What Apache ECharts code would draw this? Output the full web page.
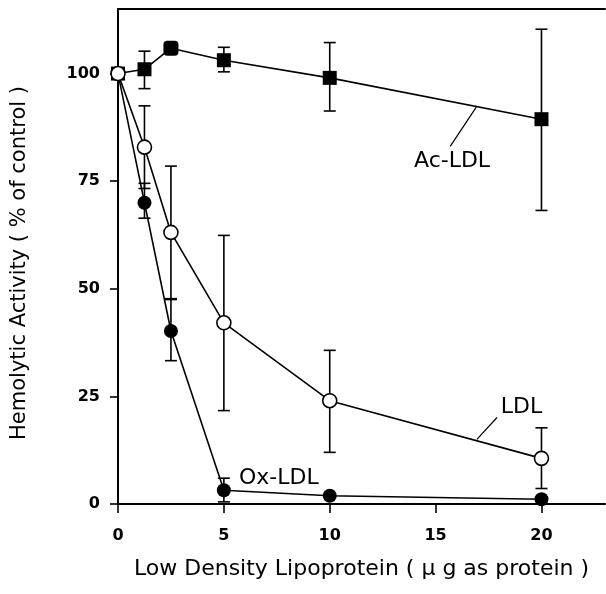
<!DOCTYPE html>
<html>
<head>
<meta charset="utf-8">
<script src="https://cdn.jsdelivr.net/npm/echarts@6/dist/echarts.min.js"></script>
<style>
html,body{margin:0;padding:0;background:#fff;}
#chart{width:606px;height:594px;}
</style>
</head>
<body>
<div id="chart"></div>
<script>
// ---- data ----
const xValues = [0, 1.25, 2.5, 5, 10, 20];
const acLDL = [100, 101, 105.9, 103.1, 99.0, 89.4];
const acLDLLow = [null, 96.5, null, 100.4, 91.3, 68.2];
const acLDLHigh = [null, 105.2, null, 106.1, 107.2, 110.3];
const ldl = [100, 82.9, 63.1, 42.1, 24.0, 10.6];
const ldlLow = [null, 73.3, 47.7, 21.7, 12.0, 3.6];
const ldlHigh = [null, 92.5, 78.5, 62.4, 35.7, 17.7];
const oxLDL = [100, 70, 40.2, 3.2, 1.9, 1.1];
const oxLDLLow = [null, 66.4, 33.3, 0.5, null, null];
const oxLDLHigh = [null, 74.5, 47.5, 6.0, null, null];
const xTicks = [0, 5, 10, 15, 20];
const yTicks = [0, 25, 50, 75, 100];
const seriesNames = ['Ac-LDL', 'LDL', 'Ox-LDL'];
// annotation anchors (data coordinates)
const labelAnchors = [[15.8, 79.4], [19.08, 22.3], [7.62, 5.8]];
const leaderLines = [
  [[16.92, 92.2], [15.69, 83.1]],
  [[17.9, 20.1], [16.95, 15.0]]
];

const FONT = 'DejaVu Sans';
function pts(ys) { return xValues.map((x, i) => [x, ys[i]]); }
function errs(lo, hi) {
  const out = [];
  xValues.forEach((x, i) => { if (lo[i] != null) out.push([x, lo[i], hi[i]]); });
  return out;
}
function errorSeries(data) {
  return {
    type: 'custom', z: 2, silent: true,
    renderItem: function (params, api) {
      const x = api.value(0);
      const a = api.coord([x, api.value(1)]);
      const b = api.coord([x, api.value(2)]);
      const w = 6;
      const st = { stroke: '#000', lineWidth: 1.6 };
      return {
        type: 'group', children: [
          { type: 'line', shape: { x1: a[0], y1: a[1], x2: b[0], y2: b[1] }, style: st },
          { type: 'line', shape: { x1: a[0] - w, y1: a[1], x2: a[0] + w, y2: a[1] }, style: st },
          { type: 'line', shape: { x1: b[0] - w, y1: b[1], x2: b[0] + w, y2: b[1] }, style: st }
        ]
      };
    },
    data: data
  };
}

const acData = pts(acLDL).map((p, i) => i === 2 ? { value: p, symbol: 'roundRect', symbolSize: 15 } : p);

const chart = echarts.init(document.getElementById('chart'));
chart.setOption({
  animation: false,
  backgroundColor: '#fff',
  grid: { left: 118, right: 1, top: 9, bottom: 90 },
  xAxis: [{
    type: 'value', min: 0, max: 23,
    axisLine: { show: true, onZero: false, lineStyle: { color: '#000', width: 2 } },
    axisTick: { show: true, inside: false, length: 9, customValues: xTicks, lineStyle: { color: '#000', width: 1.6 } },
    axisLabel: { customValues: xTicks, margin: 24, color: '#000', fontFamily: FONT, fontWeight: 'bold', fontSize: 16 },
    splitLine: { show: false },
    name: 'Low Density Lipoprotein ( \u03bc g as protein )',
    nameLocation: 'middle', nameGap: 54,
    nameTextStyle: { color: '#000', fontFamily: FONT, fontSize: 22 }
  }, {
    type: 'value', min: 0, max: 23, position: 'top', show: true,
    axisLine: { show: true, onZero: false, lineStyle: { color: '#000', width: 2 } },
    axisTick: { show: false }, axisLabel: { show: false }, splitLine: { show: false }
  }],
  yAxis: {
    type: 'value', min: 0, max: 115,
    axisLine: { show: true, onZero: false, lineStyle: { color: '#000', width: 2 } },
    axisTick: { show: true, inside: false, length: 8, customValues: yTicks, lineStyle: { color: '#000', width: 1.6 } },
    axisLabel: { customValues: yTicks, margin: 18, color: '#000', fontFamily: FONT, fontWeight: 'bold', fontSize: 16 },
    splitLine: { show: false },
    name: 'Hemolytic Activity ( % of control )',
    nameLocation: 'middle', nameGap: 88,
    nameTextStyle: { color: '#000', fontFamily: FONT, fontSize: 21, padding: [0, 13, 0, 0] }
  },
  series: [
    { type: 'line', xAxisIndex: 1, data: [], silent: true },
    errorSeries(errs(acLDLLow, acLDLHigh)),
    errorSeries(errs(ldlLow, ldlHigh)),
    errorSeries(errs(oxLDLLow, oxLDLHigh)),
    {
      name: seriesNames[2], type: 'line', z: 3, data: pts(oxLDL),
      symbol: 'circle', symbolSize: 14, showAllSymbol: true,
      lineStyle: { color: '#000', width: 1.6 },
      itemStyle: { color: '#000', borderColor: '#000', borderWidth: 0 }
    },
    {
      name: seriesNames[0], type: 'line', z: 4, data: acData,
      symbol: 'rect', symbolSize: 14, showAllSymbol: true,
      lineStyle: { color: '#000', width: 1.6 },
      itemStyle: { color: '#000', borderColor: '#000', borderWidth: 0 },
      markLine: {
        silent: true, symbol: 'none', label: { show: false },
        lineStyle: { color: '#000', width: 1.2, type: 'solid' },
        data: leaderLines.map(l => [{ coord: l[0] }, { coord: l[1] }])
      }
    },
    {
      name: seriesNames[1], type: 'line', z: 5, data: pts(ldl),
      symbol: 'circle', symbolSize: 14, showAllSymbol: true,
      lineStyle: { color: '#000', width: 1.6 },
      itemStyle: { color: '#fff', borderColor: '#000', borderWidth: 1.6 }
    },
    {
      type: 'scatter', z: 6, silent: true, symbolSize: 1,
      itemStyle: { color: 'rgba(0,0,0,0)' },
      data: labelAnchors.map((c, i) => ({ value: c, name: seriesNames[i] })),
      label: {
        show: true, position: [0, 0], align: 'center', verticalAlign: 'middle', formatter: '{b}',
        color: '#000', opacity: 1, fontFamily: FONT, fontSize: 22
      }
    }
  ]
});
</script>
</body>
</html>
